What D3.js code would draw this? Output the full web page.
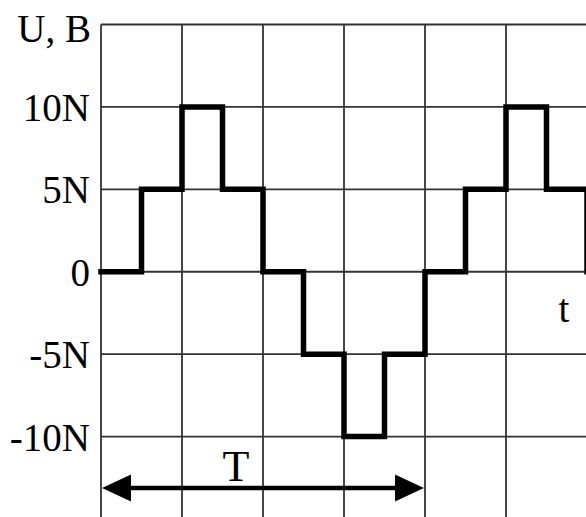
<!DOCTYPE html>
<html>
<head>
<meta charset="utf-8">
<script src="https://cdn.jsdelivr.net/npm/d3@7"></script>
<style>
  html, body { margin: 0; padding: 0; background: #fff; }
  svg { display: block; }
</style>
</head>
<body>
<div id="chart"></div>
<script>
// time in half-cells, voltage in units of N (stepped signal)
const timeSteps = [0, 1, 2, 3, 4, 5, 6, 7, 8, 9, 10, 11, 12];
const voltage   = [0, 5, 10, 5, 0, -5, -10, -5, 0, 5, 10, 5, 0];
const yTicks = [10, 5, 0, -5, -10];
const yTickLabels = ["10N", "5N", "0", "-5N", "-10N"];
const gridX = [0, 2, 4, 6, 8, 10, 12];
const gridY = [15, 10, 5, 0, -5, -10, -15];
const period = [0, 8];

(function() {
  const width = 586, height = 517;
  const font = "'Liberation Serif', 'Times New Roman', serif";

  const svg = d3.select("#chart").append("svg")
    .attr("width", width)
    .attr("height", height);

  const x = d3.scaleLinear().domain([0, 12]).range([101, 587]);
  const y = d3.scaleLinear().domain([15, -15]).range([24.5, 519]);

  // grid
  svg.append("g").selectAll("line.v")
    .data(gridX).join("line")
    .attr("x1", d => x(d)).attr("x2", d => x(d))
    .attr("y1", y(15)).attr("y2", y(-15))
    .attr("stroke", "#333").attr("stroke-width", 1.8);
  svg.append("g").selectAll("line.h")
    .data(gridY).join("line")
    .attr("x1", x(0)).attr("x2", x(12))
    .attr("y1", d => y(d)).attr("y2", d => y(d))
    .attr("stroke", "#333").attr("stroke-width", 1.8);

  // y axis labels
  const yAxis = svg.append("g")
    .attr("transform", `translate(${x(0)},0)`)
    .call(d3.axisLeft(y).tickValues(yTicks)
      .tickFormat((d, i) => yTickLabels[i])
      .tickSize(0).tickPadding(11));
  yAxis.select(".domain").remove();
  yAxis.selectAll("text")
    .attr("font-family", font).attr("font-size", 39).attr("fill", "#000")
    .attr("dy", "0.35em");

  svg.append("text")
    .attr("x", 91).attr("y", 42)
    .attr("text-anchor", "end")
    .attr("font-family", font).attr("font-size", 39)
    .text("U, B");

  // signal
  const data = timeSteps.map((t, i) => ({ t, v: voltage[i] }));
  const line = d3.line().x(d => x(d.t)).y(d => y(d.v)).curve(d3.curveStepAfter);
  svg.append("path")
    .datum(data)
    .attr("fill", "none")
    .attr("stroke", "#000")
    .attr("stroke-width", 5.5)
    .attr("stroke-linejoin", "miter")
    .attr("stroke-linecap", "square")
    .attr("d", line);

  svg.append("text")
    .attr("x", 564).attr("y", 322)
    .attr("text-anchor", "middle")
    .attr("font-family", font).attr("font-size", 39)
    .text("t");

  // period arrow
  const ay = 488;
  const x0 = x(period[0]) + 1, x1 = x(period[1]) - 1;
  const headL = 29, headH = 13.5;
  svg.append("line")
    .attr("x1", x0 + headL - 2).attr("x2", x1 - headL + 2)
    .attr("y1", ay).attr("y2", ay)
    .attr("stroke", "#000").attr("stroke-width", 4.5);
  svg.append("path")
    .attr("d", `M${x0},${ay}L${x0 + headL},${ay - headH}L${x0 + headL},${ay + headH}Z`)
    .attr("fill", "#000");
  svg.append("path")
    .attr("d", `M${x1},${ay}L${x1 - headL},${ay - headH}L${x1 - headL},${ay + headH}Z`)
    .attr("fill", "#000");

  svg.append("text")
    .attr("x", 236).attr("y", 481)
    .attr("text-anchor", "middle")
    .attr("font-family", font).attr("font-size", 44)
    .text("T");
})();
</script>
</body>
</html>
